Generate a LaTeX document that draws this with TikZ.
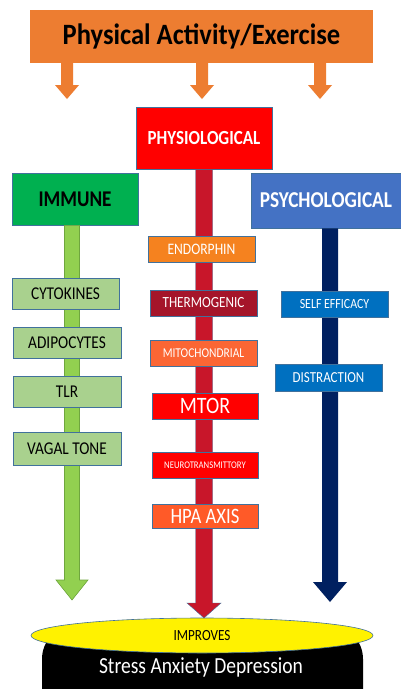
\documentclass[tikz,border=0pt]{standalone}
\usepackage{fontspec}
\setmainfont{Carlito}
\newfontfamily\cnd[FakeStretch=0.85]{Carlito}
\newfontfamily\cndtitle[FakeStretch=0.9]{Carlito}
\usetikzlibrary{calc,shapes.geometric}

\definecolor{topOrange}{HTML}{ED7D31}
\definecolor{physRed}{HTML}{FF0000}
\definecolor{shaftRed}{RGB}{200,22,42}
\definecolor{immGreen}{HTML}{00B050}
\definecolor{lightGreen}{HTML}{92D050}
\definecolor{itemGreen}{HTML}{A9D18E}
\definecolor{psyBlue}{HTML}{4472C4}
\definecolor{navy}{HTML}{002060}
\definecolor{itemBlue}{HTML}{0070C0}
\definecolor{edgeBlue}{HTML}{41719C}
\definecolor{endOrange}{HTML}{F5821F}
\definecolor{thermoRed}{HTML}{A5152A}
\definecolor{mitoOrange}{HTML}{FB6634}
\definecolor{hpaOrange}{HTML}{FF5A28}
\definecolor{headGreen}{HTML}{6FA63E}

% block arrow: style, start anchor, tip coordinate, shaft half width, head half width, head length
\newcommand{\blockarrow}[6]{%
  \path[#1] ($(#3 |- #2)+(-#4,0)$) -- ($(#3)+(-#4,-#6)$) -- ($(#3)+(-#5,-#6)$)
    -- (#3) -- ($(#3)+(#5,-#6)$) -- ($(#3)+(#4,-#6)$) -- ($(#3 |- #2)+(#4,0)$) -- cycle;}
\newcommand{\fsz}[1]{\cnd\fontsize{#1}{#1}\selectfont}

\tikzset{
  box/.style={rectangle, inner sep=0pt, draw=edgeBlue, line width=0.6pt, align=center},
  immitem/.style={box, fill=itemGreen, text=black, font=\fsz{18}},
  physitem/.style={box, fill=#1, text=white},
  psyitem/.style={box, fill=itemBlue, text=white},
}

\begin{document}
\begin{tikzpicture}[x=1pt, y=-1pt]
\useasboundingbox[fill=white] (0,0) rectangle (401,689);

% headline
\node[rectangle, fill=topOrange, minimum width=343pt, minimum height=53pt, inner sep=0pt,
  font=\cndtitle\fontsize{29.5}{32}\selectfont\bfseries] (top) at (201.5,36.5) {Physical Activity/Exercise};
\coordinate (t1) at (67,99);
\coordinate (t2) at (202,99);
\coordinate (t3) at (320,99);
\blockarrow{fill=topOrange}{top.south}{t1}{6}{12}{14}
\blockarrow{fill=topOrange}{top.south}{t2}{6}{12}{14}
\blockarrow{fill=topOrange}{top.south}{t3}{6}{12}{14}

% three pathway headers
\node[box, fill=physRed, text=white, minimum width=136pt, minimum height=62pt,
  font=\fsz{20}\bfseries] (phys) at (204,138) {PHYSIOLOGICAL};
\node[box, fill=immGreen, text=black, minimum width=126pt, minimum height=52pt,
  font=\fsz{22.5}\bfseries] (imm) at (75,199) {IMMUNE};
\node[box, fill=psyBlue, text=white, minimum width=150pt, minimum height=55pt,
  font=\fsz{22.7}\bfseries] (psy) at (326,200.5) {PSYCHOLOGICAL};

% downward pathway arrows
\coordinate (gtip) at (72,600);
\coordinate (rtip) at (204,618);
\coordinate (btip) at (330,602);
\blockarrow{fill=lightGreen, draw=headGreen, line width=0.6pt}{imm.south}{gtip}{7.5}{16}{20}
\blockarrow{fill=navy}{psy.south}{btip}{8}{17}{20}

% outcome
\begin{scope}
\clip (0,0) rectangle (401,689);
\node[rectangle, rounded corners=34pt, fill=black, minimum width=321pt, minimum height=110pt,
  inner sep=0pt] (out) at (202.5,680) {};
\end{scope}
\node[text=white, font=\fsz{23}] (outtxt) at (201,667) {Stress Anxiety Depression};
\node[ellipse, fill=yellow, draw=edgeBlue, line width=0.6pt, minimum width=342pt,
  minimum height=35pt, inner sep=0pt, font=\fsz{15.5}] (imp) at (202,635.5) {IMPROVES};
\blockarrow{fill=shaftRed, draw=edgeBlue, line width=0.4pt}{phys.south}{rtip}{8.5}{17}{15}

% immune factors
\node[immitem, minimum width=107pt, minimum height=31pt] (cyt) at (65.5,293.5) {CYTOKINES};
\node[immitem, minimum width=108pt, minimum height=31pt] (adi) at (67,342.5) {ADIPOCYTES};
\node[immitem, minimum width=108pt, minimum height=31pt] (tlr) at (67,391.5) {TLR};
\node[immitem, minimum width=108pt, minimum height=33pt] (vag) at (67,448.5) {VAGAL TONE};

% physiological factors
\node[physitem=endOrange, minimum width=107pt, minimum height=26pt,
  font=\fsz{16}] (endo) at (201.5,249) {ENDORPHIN};
\node[physitem=thermoRed, minimum width=107pt, minimum height=26pt,
  font=\fsz{15.5}] (thermo) at (203.5,303) {THERMOGENIC};
\node[physitem=mitoOrange, minimum width=107pt, minimum height=26pt,
  font=\fsz{13.5}] (mito) at (203.5,353) {MITOCHONDRIAL};
\node[physitem=physRed, minimum width=106pt, minimum height=26pt,
  font=\fsz{23.5}] (mtor) at (205,406) {MTOR};
\node[physitem=physRed, minimum width=106pt, minimum height=26pt,
  font=\fsz{10.2}] (neuro) at (205,465) {NEUROTRANSMITTORY};
\node[physitem=hpaOrange, minimum width=106pt, minimum height=24pt,
  font=\fsz{22}] (hpa) at (205,516) {HPA AXIS};

% psychological factors
\node[psyitem, minimum width=107pt, minimum height=26pt,
  font=\fsz{14}] (self) at (334.5,304) {SELF EFFICACY};
\node[psyitem, minimum width=107pt, minimum height=27pt,
  font=\fsz{15.3}] (dist) at (328.5,377.5) {DISTRACTION};
\end{tikzpicture}
\end{document}
